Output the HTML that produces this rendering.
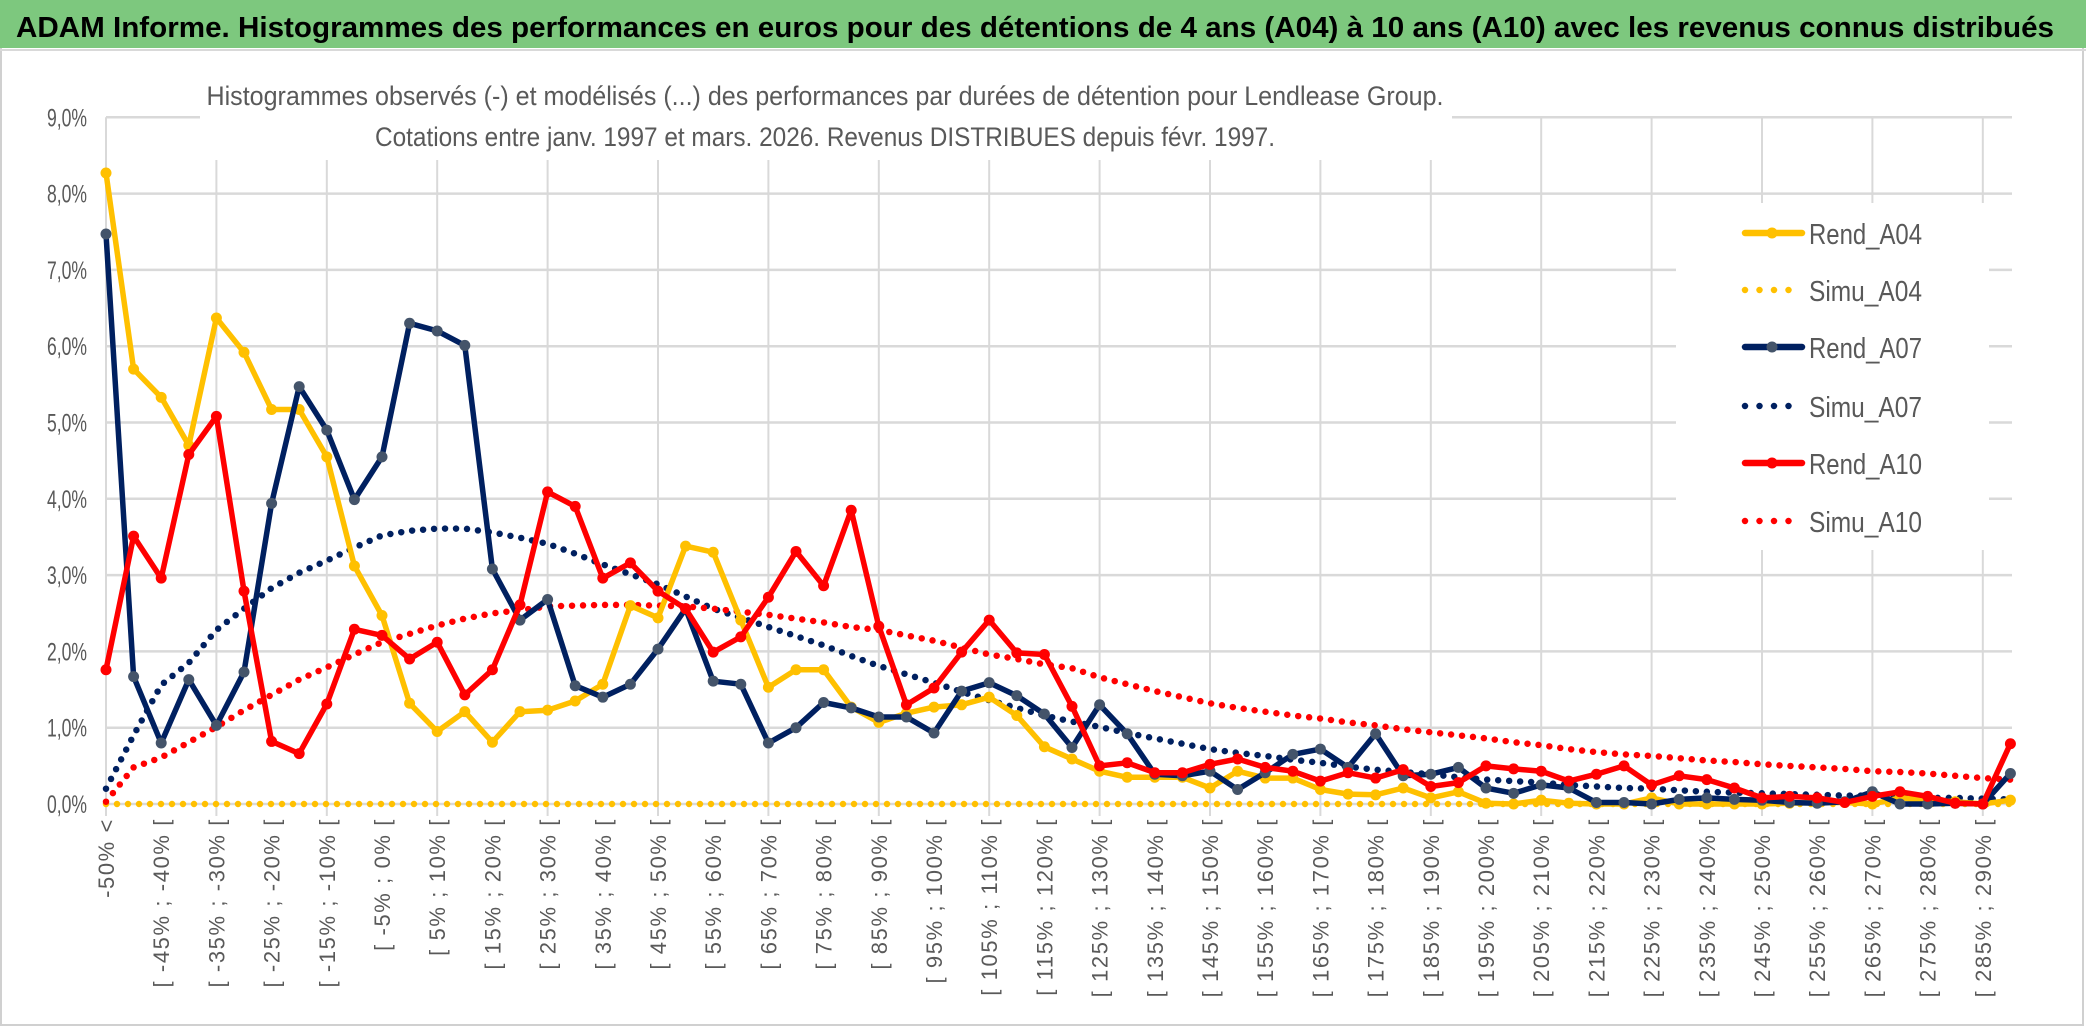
<!DOCTYPE html>
<html><head><meta charset="utf-8"><style>
html,body{margin:0;padding:0;background:#fff;}
svg{display:block;}
</style></head><body>
<svg id="chart" width="2086" height="1031" viewBox="0 0 2086 1031" xmlns="http://www.w3.org/2000/svg">
<rect x="0" y="0" width="2086" height="1031" fill="#fff"/>
<rect x="1" y="1" width="2082" height="1024" fill="none" stroke="#d0d0d0" stroke-width="2"/>
<rect x="0" y="0" width="2086" height="48" fill="#7DC87E"/>
<line x1="0" y1="50" x2="2086" y2="50" stroke="#d9d9d9" stroke-width="2"/>
<text x="16" y="37" font-family="Liberation Sans, sans-serif" font-weight="bold" font-size="29" fill="#000" textLength="2038" lengthAdjust="spacingAndGlyphs">ADAM Informe. Histogrammes des performances en euros pour des détentions de 4 ans (A04) à 10 ans (A10) avec les revenus connus distribués</text>
<g id="grid"></g>
<g id="yaxis"></g>
<g id="xaxis"></g>
<rect x="200" y="72" width="1252" height="88" fill="#fff"/>
<text x="825" y="105" text-anchor="middle" font-family="Liberation Sans, sans-serif" font-size="27" fill="#595959" textLength="1237" lengthAdjust="spacingAndGlyphs">Histogrammes observés (-) et modélisés (...) des performances par durées de détention pour Lendlease Group.</text>
<text x="825" y="146" text-anchor="middle" font-family="Liberation Sans, sans-serif" font-size="27" fill="#595959" textLength="900" lengthAdjust="spacingAndGlyphs">Cotations entre janv. 1997 et mars. 2026. Revenus DISTRIBUES depuis févr. 1997.</text>
<g id="series"></g>
<g id="legend"></g>
</svg>
<script>
const categoriesCount = 70;
const yTicks = ["0,0%","1,0%","2,0%","3,0%","4,0%","5,0%","6,0%","7,0%","8,0%","9,0%"];
const rendA04 = [8.27,5.7,5.33,4.7,6.37,5.92,5.17,5.17,4.55,3.12,2.47,1.32,0.95,1.21,0.81,1.21,1.23,1.35,1.57,2.6,2.44,3.38,3.3,2.41,1.53,1.76,1.76,1.27,1.07,1.19,1.27,1.3,1.4,1.16,0.75,0.59,0.43,0.35,0.35,0.35,0.21,0.43,0.34,0.34,0.19,0.13,0.12,0.21,0.08,0.16,0.01,0,0.05,0.01,0,0,0.08,0,0,0,0,0.01,0.02,0.02,0,0.08,0.05,0.03,0,0.05];
const simuA04 = [0,0,0,0,0,0,0,0,0,0,0,0,0,0,0,0,0,0,0,0,0,0,0,0,0,0,0,0,0,0,0,0,0,0,0,0,0,0,0,0,0,0,0,0,0,0,0,0,0,0,0,0,0,0,0,0,0,0,0,0,0,0,0,0,0,0,0,0,0,0];
const rendA07 = [7.47,1.67,0.8,1.63,1.03,1.73,3.94,5.47,4.9,3.99,4.55,6.3,6.2,6.01,3.08,2.41,2.68,1.55,1.4,1.57,2.03,2.56,1.61,1.57,0.8,1.0,1.33,1.26,1.14,1.14,0.93,1.48,1.59,1.42,1.18,0.74,1.3,0.92,0.39,0.37,0.43,0.19,0.41,0.65,0.72,0.48,0.92,0.37,0.39,0.48,0.21,0.14,0.25,0.21,0.02,0.02,0,0.06,0.08,0.06,0.05,0.02,0.01,0.03,0.16,0,0,0.01,0,0.4];
const simuA07 = [0.2,0.9,1.56,1.85,2.28,2.56,2.83,3.03,3.19,3.36,3.52,3.58,3.61,3.61,3.56,3.49,3.41,3.28,3.14,3.01,2.88,2.72,2.56,2.44,2.32,2.2,2.08,1.94,1.81,1.7,1.59,1.47,1.36,1.26,1.16,1.08,1.01,0.93,0.86,0.79,0.72,0.67,0.63,0.58,0.54,0.49,0.45,0.42,0.39,0.35,0.32,0.3,0.28,0.25,0.23,0.21,0.2,0.18,0.16,0.15,0.14,0.13,0.12,0.11,0.11,0.1,0.08,0.08,0.07,0.06];
const rendA10 = [1.76,3.51,2.96,4.58,5.08,2.79,0.82,0.66,1.31,2.29,2.21,1.9,2.12,1.43,1.76,2.61,4.09,3.9,2.96,3.16,2.79,2.56,1.99,2.19,2.71,3.31,2.86,3.85,2.33,1.3,1.52,1.99,2.41,1.98,1.96,1.28,0.5,0.54,0.41,0.41,0.52,0.59,0.48,0.43,0.3,0.41,0.34,0.45,0.23,0.28,0.5,0.46,0.43,0.3,0.39,0.5,0.25,0.37,0.32,0.21,0.08,0.1,0.08,0.02,0.1,0.16,0.1,0.01,0,0.79];
const simuA10 = [0.03,0.48,0.61,0.81,1.01,1.23,1.43,1.63,1.79,1.96,2.12,2.23,2.34,2.43,2.5,2.54,2.59,2.6,2.61,2.61,2.6,2.59,2.56,2.52,2.48,2.43,2.38,2.32,2.28,2.21,2.14,2.05,1.96,1.9,1.83,1.78,1.66,1.57,1.48,1.4,1.32,1.26,1.21,1.16,1.12,1.07,1.03,0.98,0.94,0.9,0.86,0.81,0.77,0.72,0.68,0.65,0.63,0.6,0.57,0.55,0.52,0.5,0.48,0.46,0.43,0.42,0.4,0.37,0.34,0.32];

const NS = "http://www.w3.org/2000/svg";
const X0 = 106, XSTEP = 27.6, Y0 = 804, YPER = 76.3;
function xPos(i){ return X0 + XSTEP * i; }
function yPos(v){ return Y0 - YPER * v; }
function mk(tag, attrs, parent){
  const e = document.createElementNS(NS, tag);
  for (const k in attrs) e.setAttribute(k, attrs[k]);
  parent.appendChild(e);
  return e;
}
function catLabel(i){
  if (i === 0) return "-50% <";
  const lo = -55 + 5 * i, hi = lo + 5;
  return "[ " + lo + "% ; " + hi + "% [";
}

const grid = document.getElementById("grid");
const yaxis = document.getElementById("yaxis");
const xaxis = document.getElementById("xaxis");
const series = document.getElementById("series");
const legend = document.getElementById("legend");

yTicks.forEach(function(t, k){
  const y = yPos(k);
  const gl = mk("line", {x1: X0, y1: y, x2: 2012, y2: y, stroke: "#d9d9d9", "stroke-width": 2.5}, grid);
  
  
  const tl = mk("text", {x: 87, y: y + 9, "text-anchor": "end", "font-family": "Liberation Sans, sans-serif", "font-size": 25, fill: "#595959", textLength: 40, lengthAdjust: "spacingAndGlyphs"}, yaxis);
  tl.textContent = t;
  
  
});
for (let i = 0; i < categoriesCount; i += 4){
  const x = xPos(i);
  const vl = mk("line", {x1: x, y1: yPos(9), x2: x, y2: Y0 + 12, stroke: "#d9d9d9", "stroke-width": 2}, grid);
  
  
}
for (let i = 0; i < categoriesCount; i += 2){
  const x = xPos(i);
  const lb = mk("text", {x: 0, y: 0, "text-anchor": "end", "font-family": "Liberation Sans, sans-serif", "font-size": 22, "letter-spacing": 1.6, fill: "#595959", transform: "translate(" + (x + 8) + ",818) rotate(-90)"}, xaxis);
  lb.textContent = catLabel(i);
  
  
}

function pathFor(vals){
  return vals.map(function(v, i){ return (i ? "L" : "M") + xPos(i).toFixed(1) + " " + yPos(v).toFixed(1); }).join(" ");
}
function drawDotted(vals, color, name){
  const p = mk("path", {d: pathFor(vals), fill: "none", stroke: color, "stroke-width": 6.5, "stroke-linecap": "round", "stroke-dasharray": "0 11"}, series);
  
  
}
function drawRend(vals, color, mColor, name){
  const p = mk("path", {d: pathFor(vals), fill: "none", stroke: color, "stroke-width": 5.5, "stroke-linejoin": "round"}, series);
  
  
  vals.forEach(function(v, i){
    const c = mk("circle", {cx: xPos(i), cy: yPos(v), r: 5.5, fill: mColor}, series);
    
    
  });
}
drawDotted(simuA04, "#FFC000", "simu-a04-line");
drawDotted(simuA07, "#002060", "simu-a07-line");
drawDotted(simuA10, "#FF0000", "simu-a10-line");
drawRend(rendA04, "#FFC000", "#FFC000", "rend-a04-line");
drawRend(rendA07, "#002060", "#44546A", "rend-a07-line");
drawRend(rendA10, "#FF0000", "#FF0000", "rend-a10-line");

const lbox = mk("rect", {x: 1676, y: 203, width: 313, height: 347, fill: "#fff"}, legend);


const legendItems = [
  ["Rend_A04", "#FFC000", "#FFC000", false, 233],
  ["Simu_A04", "#FFC000", null, true, 290],
  ["Rend_A07", "#002060", "#44546A", false, 347],
  ["Simu_A07", "#002060", null, true, 406],
  ["Rend_A10", "#FF0000", "#FF0000", false, 463],
  ["Simu_A10", "#FF0000", null, true, 521]
];
legendItems.forEach(function(it){
  const g = mk("g", {}, legend);
  
  
  const y = it[4];
  if (it[3]) {
    mk("line", {x1: 1745, y1: y, x2: 1802, y2: y, stroke: it[1], "stroke-width": 6.5, "stroke-linecap": "round", "stroke-dasharray": "0 14.5"}, g);
  } else {
    mk("line", {x1: 1745, y1: y, x2: 1802, y2: y, stroke: it[1], "stroke-width": 6.5, "stroke-linecap": "round"}, g);
    mk("circle", {cx: 1772, cy: y, r: 5.5, fill: it[2]}, g);
  }
  const t = mk("text", {x: 1809, y: y + 11, "font-family": "Liberation Sans, sans-serif", "font-size": 29, fill: "#595959", textLength: 113, lengthAdjust: "spacingAndGlyphs"}, g);
  t.textContent = it[0];
});
</script>
</body></html>
